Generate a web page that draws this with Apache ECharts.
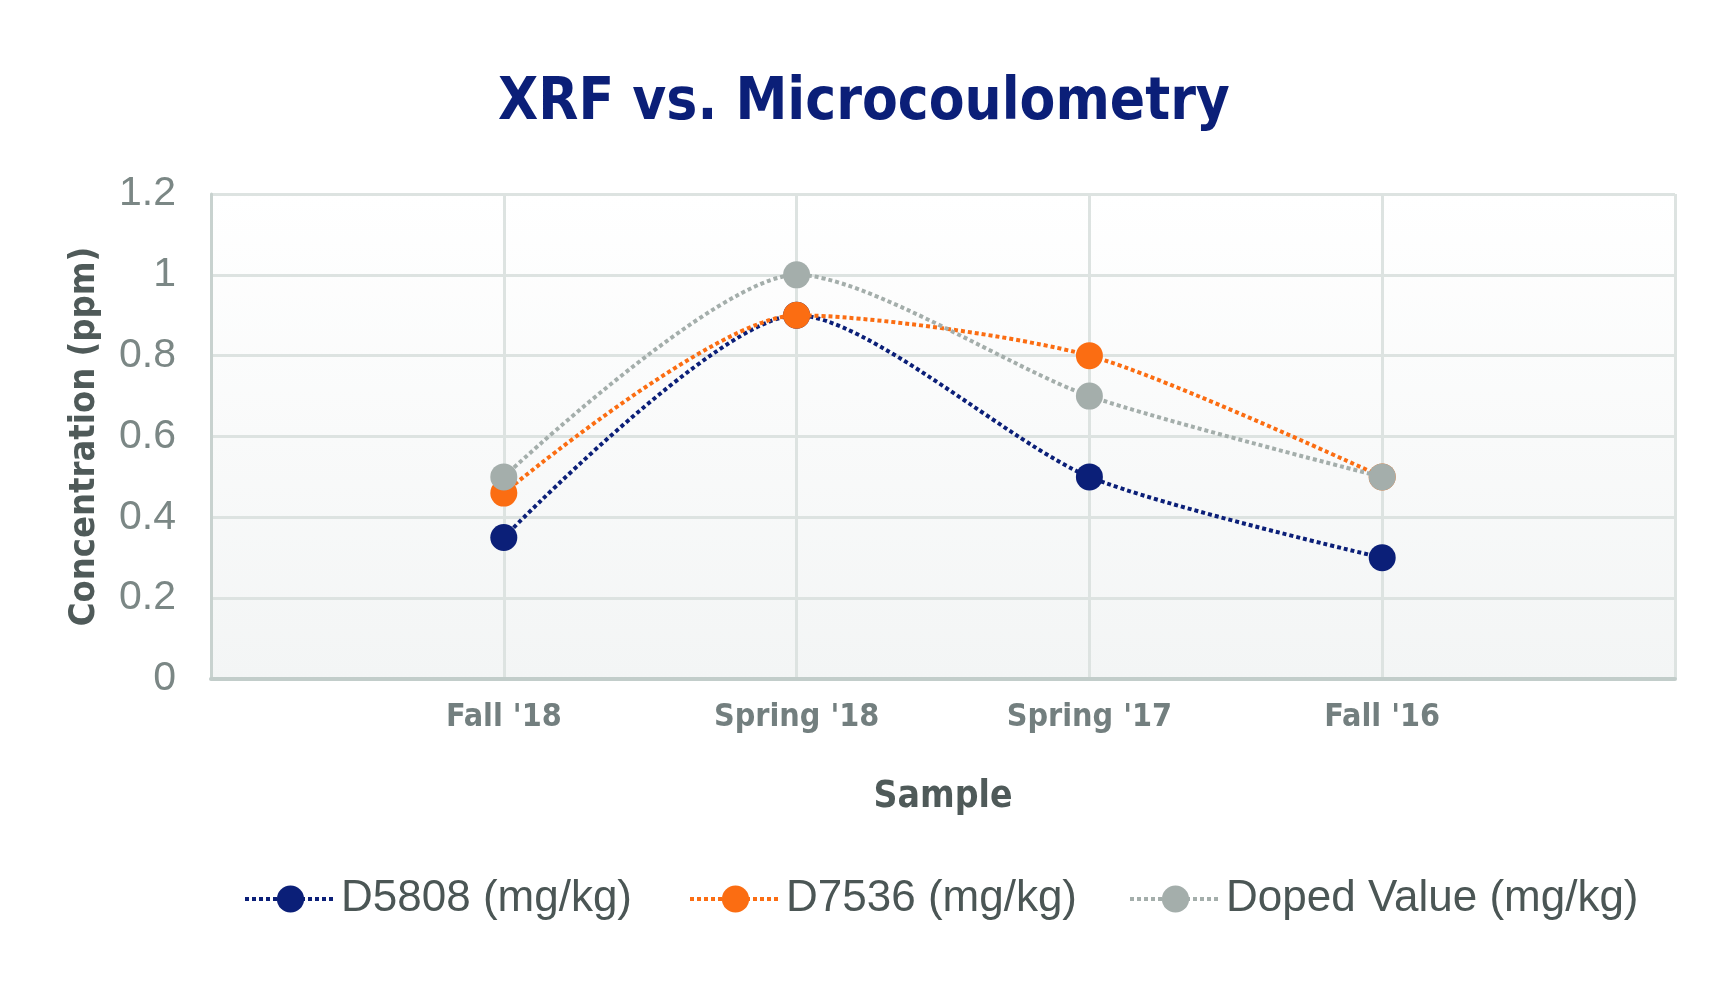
<!DOCTYPE html>
<html>
<head>
<meta charset="utf-8">
<script src="https://cdn.jsdelivr.net/npm/echarts@6/dist/echarts.min.js"></script>
<style>
html,body{margin:0;padding:0;background:#fff;}
#chart{width:1728px;height:988px;}
</style>
</head>
<body>
<div id="chart"></div>
<script>
const categories = ["Fall '18", "Spring '18", "Spring '17", "Fall '16"];
const d5808 = [0.35, 0.9, 0.5, 0.3];
const d7536 = [0.46, 0.9, 0.8, 0.5];
const doped = [0.5, 1.0, 0.7, 0.5];
const seriesNames = ['D5808 (mg/kg)', 'D7536 (mg/kg)', 'Doped Value (mg/kg)'];
const yTickLabels = ['0', '0.2', '0.4', '0.6', '0.8', '1', '1.2'];

const colors = ['#0b1f78', '#fb6d12', '#a4aeab'];
const narrow = '"DejaVu Sans Condensed", "Liberation Sans Narrow", sans-serif';
const regular = '"Liberation Sans", Arial, Helvetica, sans-serif';

function toPoints(vals) { return categories.map((c, i) => [i + 1, vals[i]]); }

const chart = echarts.init(document.getElementById('chart'));
const seriesVals = [d5808, d7536, doped];

chart.setOption({
  animation: false,
  backgroundColor: '#ffffff',
  title: {
    text: 'XRF vs. Microcoulometry',
    left: 'center',
    top: 70,
    textStyle: { fontFamily: narrow, fontWeight: 'bold', fontSize: 58, color: '#0b1f78' }
  },
  grid: {
    left: 211, right: 53, top: 194, bottom: 309,
    show: true,
    borderWidth: 0,
    backgroundColor: new echarts.graphic.LinearGradient(0, 0, 0, 1, [
      { offset: 0, color: '#ffffff' },
      { offset: 1, color: '#f3f5f5' }
    ])
  },
  legend: seriesNames.map((n, i) => ({
    data: [n],
    left: [238, 683, 1123][i],
    top: 872,
    itemWidth: 91,
    itemHeight: 34,
    lineStyle: { width: 4, type: [4, 3], cap: 'butt' },
    textStyle: { fontFamily: regular, fontSize: 44, color: '#4b5655' }
  })),
  xAxis: {
    type: 'value',
    min: 0, max: 5, interval: 1,
    name: 'Sample',
    nameLocation: 'middle',
    nameGap: 100,
    nameTextStyle: { fontFamily: narrow, fontWeight: 'bold', fontSize: 37, color: '#4f5a59' },
    axisLine: { show: true, onZero: false, lineStyle: { color: '#c2cdca', width: 4 } },
    axisTick: { show: false },
    axisLabel: {
      margin: 23,
      fontFamily: narrow, fontWeight: 'bold', fontSize: 32, color: '#737f7f',
      formatter: v => categories[Math.round(v) - 1] || ''
    },
    splitLine: { show: true, lineStyle: { color: '#dde3e1', width: 3 } }
  },
  yAxis: {
    type: 'value',
    min: 0, max: 1.2, interval: 0.2,
    name: 'Concentration (ppm)',
    nameLocation: 'middle',
    nameGap: 108,
    nameTextStyle: { fontFamily: narrow, fontWeight: 'bold', fontSize: 36, color: '#4f5a59' },
    axisLine: { show: true, lineStyle: { color: '#c8d2cf', width: 3 } },
    axisTick: { show: false },
    axisLabel: {
      margin: 35,
      fontFamily: regular, fontSize: 41, color: '#7b8785',
      formatter: v => yTickLabels[Math.round(v / 0.2)]
    },
    splitLine: { show: true, lineStyle: { color: '#dde3e1', width: 3 } }
  },
  series: seriesNames.map((n, i) => ({
    name: n,
    type: 'line',
    data: toPoints(seriesVals[i]),
    smooth: 0.25,
    symbol: 'circle',
    symbolSize: 27,
    color: colors[i],
    itemStyle: { color: colors[i] },
    lineStyle: { color: colors[i], width: 4, type: [4, 3], cap: 'butt' },
    z: 2 + i
  }))
});
</script>
</body>
</html>
